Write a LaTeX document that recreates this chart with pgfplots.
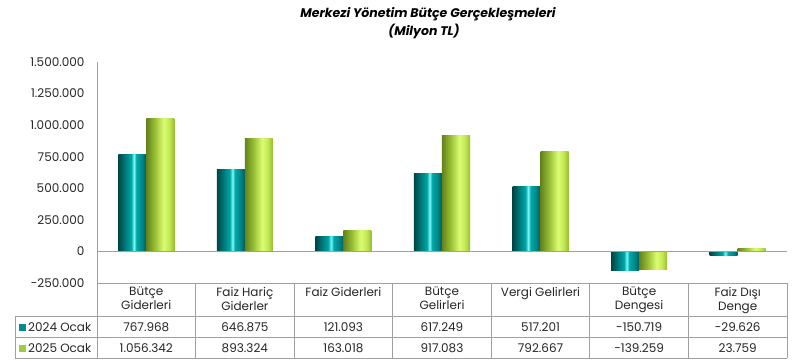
\documentclass[border=0pt]{standalone}
\usepackage{fontspec}
\setmainfont{Poppins}
\usepackage{pgfplots}
\pgfplotsset{compat=1.18}
\definecolor{axgray}{RGB}{160,160,160}
\definecolor{tealleg}{RGB}{0,140,140}
\definecolor{greenleg}{RGB}{160,205,60}
\pgfdeclarehorizontalshading{tealshade}{100bp}{%
 color(0bp)=(rgb,255:red,0;green,70;blue,70);
 color(25bp)=(rgb,255:red,0;green,70;blue,70);
 color(38bp)=(rgb,255:red,0;green,125;blue,125);
 color(48bp)=(rgb,255:red,0;green,165;blue,165);
 color(53bp)=(rgb,255:red,130;green,250;blue,250);
 color(57bp)=(rgb,255:red,0;green,170;blue,170);
 color(68bp)=(rgb,255:red,0;green,130;blue,130);
 color(75bp)=(rgb,255:red,0;green,90;blue,90);
 color(100bp)=(rgb,255:red,0;green,90;blue,90)}
\pgfdeclarehorizontalshading{greenshade}{100bp}{%
 color(0bp)=(rgb,255:red,100;green,130;blue,30);
 color(25bp)=(rgb,255:red,100;green,130;blue,30);
 color(40bp)=(rgb,255:red,150;green,190;blue,50);
 color(56bp)=(rgb,255:red,220;green,252;blue,115);
 color(66bp)=(rgb,255:red,195;green,232;blue,85);
 color(75bp)=(rgb,255:red,150;green,190;blue,45);
 color(100bp)=(rgb,255:red,150;green,190;blue,45)}
\pgfplotsset{
  tbar/.style={ybar, bar width=28pt, bar shift=-14pt, draw=none, shade, shading=tealshade},
  gbar/.style={ybar, bar width=28pt, bar shift=14pt, draw=none, shade, shading=greenshade},
}
\begin{document}
\begin{tikzpicture}
\begin{axis}[
  at={(0,0)}, anchor=south west,
  scale only axis, width=690pt, height=221pt,
  xmin=-0.5, xmax=6.5, ymin=-250000, ymax=1500000,
  axis x line=none, axis y line*=left,
  y axis line style={draw=axgray, line width=0.8pt, -},
  ytick={-250000,0,250000,500000,750000,1000000,1250000,1500000},
  yticklabels={-250.000,0,250.000,500.000,750.000,1.000.000,1.250.000,1.500.000},
  major tick length=0pt,
  scaled y ticks=false,
  yticklabel style={font=\fontsize{12}{14}\selectfont, text=black!85, xshift=-9pt},
  clip=false,
]
% 2024 Ocak
\addplot[tbar] coordinates {(0,767968)};
\addplot[tbar] coordinates {(1,646875)};
\addplot[tbar] coordinates {(2,121093)};
\addplot[tbar] coordinates {(3,617249)};
\addplot[tbar] coordinates {(4,517201)};
\addplot[tbar] coordinates {(5,-150719)};
\addplot[tbar] coordinates {(6,-29626)};
% 2025 Ocak
\addplot[gbar] coordinates {(0,1056342)};
\addplot[gbar] coordinates {(1,893324)};
\addplot[gbar] coordinates {(2,163018)};
\addplot[gbar] coordinates {(3,917083)};
\addplot[gbar] coordinates {(4,792667)};
\addplot[gbar] coordinates {(5,-139259)};
\addplot[gbar] coordinates {(6,23759)};
\draw[axgray, line width=0.8pt] (axis cs:-0.5,0) -- (axis cs:6.5,0);
\end{axis}
\begin{scope}[x=1pt, y=1pt]
\path (-97,-81) rectangle (706,283);
\def\c{98.571429}
\draw[axgray, line width=0.8pt] (0,0) -- (690,0);
\draw[axgray, line width=0.8pt] (-82,-33.5) -- (690,-33.5);
\draw[axgray, line width=0.8pt] (-82,-54.5) -- (690,-54.5);
\draw[axgray, line width=0.8pt] (-82,-75) -- (690,-75);
\draw[axgray, line width=0.8pt] (-82,-33.5) -- (-82,-75);
\foreach \k in {0,...,7} {\draw[axgray, line width=0.8pt] (\k*\c,0) -- (\k*\c,-75);}
\begin{scope}[every node/.style={font=\fontsize{12}{14}\selectfont, text=black!85, align=center, inner sep=0pt}]
\node[anchor=north] at (0.5*\c,-4) {Bütçe\\Giderleri};
\node[anchor=north] at (1.5*\c,-4) {Faiz Hariç\\Giderler};
\node[anchor=north] at (2.5*\c,-4) {Faiz Giderleri};
\node[anchor=north] at (3.5*\c,-4) {Bütçe\\Gelirleri};
\node[anchor=north] at (4.5*\c,-4) {Vergi Gelirleri};
\node[anchor=north] at (5.5*\c,-4) {Bütçe\\Dengesi};
\node[anchor=north] at (6.5*\c,-4) {Faiz Dışı\\Denge};
\node at (0.5*\c,-44) {767.968};
\node at (1.5*\c,-44) {646.875};
\node at (2.5*\c,-44) {121.093};
\node at (3.5*\c,-44) {617.249};
\node at (4.5*\c,-44) {517.201};
\node at (5.5*\c,-44) {-150.719};
\node at (6.5*\c,-44) {-29.626};
\node at (0.5*\c,-65) {1.056.342};
\node at (1.5*\c,-65) {893.324};
\node at (2.5*\c,-65) {163.018};
\node at (3.5*\c,-65) {917.083};
\node at (4.5*\c,-65) {792.667};
\node at (5.5*\c,-65) {-139.259};
\node at (6.5*\c,-65) {23.759};
\node[anchor=west] at (-69,-44) {2024 Ocak};
\node[anchor=west] at (-69,-65) {2025 Ocak};
\node[font=\fontsize{12.5}{15}\selectfont\bfseries\itshape, text=black] at (331,269) {Merkezi Yönetim Bütçe Gerçekleşmeleri};
\node[font=\fontsize{12.5}{15}\selectfont\bfseries\itshape, text=black] at (327,252) {(Milyon TL)};
\end{scope}
\fill[tealleg] (-78,-47.5) rectangle (-71,-40.5);
\fill[greenleg] (-78,-68.5) rectangle (-71,-61.5);
\end{scope}
\end{tikzpicture}
\end{document}
